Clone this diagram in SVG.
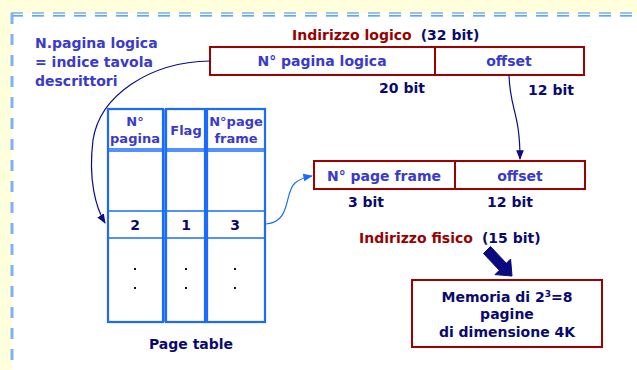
<svg xmlns="http://www.w3.org/2000/svg" width="637" height="370" viewBox="0 0 637 370">
  <style>
    text { font-family: "DejaVu Sans", Verdana, sans-serif; font-weight: bold; }
    .lbl { fill: #3a3acc; font-size: 14px; }
    .hdr { fill: #3a3acc; font-size: 13px; }
    .navy { fill: #0a0a6e; font-size: 14px; }
    .box { fill: #ffffff; stroke: #a00000; stroke-width: 2; }
    .col { fill: #ffffff; stroke: #1a6cff; stroke-width: 2.2; }
    .cell { fill: none; stroke: #1a6cff; stroke-width: 1.5; }
    .dot { fill: #111111; }
  </style>
  <defs>
    <marker id="ahNavy" viewBox="0 0 10 10" refX="9" refY="5" markerWidth="8" markerHeight="8" orient="auto">
      <path d="M0,1 L10,5 L0,9 Z" fill="#0a0a8e"/>
    </marker>
    <marker id="ahBlue" viewBox="0 0 10 10" refX="9" refY="5" markerWidth="8" markerHeight="8" orient="auto">
      <path d="M0,1 L10,5 L0,9 Z" fill="#1a6cff"/>
    </marker>
  </defs>

  <!-- page background and dashed frame -->
  <rect x="0" y="0" width="637" height="370" fill="#ffffdc"/>
  <rect x="12" y="13" width="625" height="357" fill="#ffffff"/>
  <g fill="none">
    <line x1="11" y1="13" x2="637" y2="13" stroke="#2e86ff" stroke-width="1.2" stroke-dasharray="12 9"/>
    <line x1="11" y1="15.8" x2="637" y2="15.8" stroke="#2e86ff" stroke-width="1.2" stroke-dasharray="12 9"/>
    <line x1="12" y1="13" x2="12" y2="370" stroke="#7fb2f4" stroke-width="3" stroke-dasharray="11 10"/>
  </g>

  <!-- caption on the left -->
  <g id="caption">
    <text class="lbl" x="35" y="48">N.pagina logica</text>
    <text class="lbl" x="35" y="67">= indice tavola</text>
    <text class="lbl" x="35" y="86">descrittori</text>
  </g>

  <!-- logical address -->
  <g id="logical-address">
    <text x="292" y="40" font-size="14"><tspan fill="#990000">Indirizzo logico</tspan><tspan fill="#0a0a6e" dx="9">(32 bit)</tspan></text>
    <rect class="box" x="210" y="47" width="374" height="28"/>
    <line x1="435" y1="47" x2="435" y2="75" stroke="#a00000" stroke-width="2"/>
    <text class="lbl" x="322" y="66" text-anchor="middle">N° pagina logica</text>
    <text class="lbl" x="509" y="66" text-anchor="middle">offset</text>
    <text class="navy" x="402" y="93" text-anchor="middle">20 bit</text>
    <text class="navy" x="551" y="95" text-anchor="middle">12 bit</text>
  </g>

  <!-- page table -->
  <g id="page-table">
    <rect class="col" x="108" y="109" width="55" height="213"/>
    <rect class="col" x="166" y="109" width="39" height="213"/>
    <rect class="col" x="207" y="109" width="58" height="213"/>
    <rect class="cell" x="108" y="109" width="55" height="40"/>
    <rect class="cell" x="166" y="109" width="39" height="40"/>
    <rect class="cell" x="207" y="109" width="58" height="40"/>
    <line class="cell" x1="108" y1="151" x2="163" y2="151"/>
    <line class="cell" x1="166" y1="151" x2="205" y2="151"/>
    <line class="cell" x1="207" y1="151" x2="265" y2="151"/>
    <rect class="cell" x="108" y="211" width="157" height="27"/>
    <line class="cell" x1="165" y1="109" x2="165" y2="322"/>
    <line class="cell" x1="206" y1="109" x2="206" y2="322"/>
    <text class="hdr" x="135" y="126" text-anchor="middle">N°</text>
    <text class="hdr" x="135" y="143" text-anchor="middle">pagina</text>
    <text class="hdr" x="186" y="135" text-anchor="middle" font-size="14">Flag</text>
    <text class="hdr" x="236" y="126" text-anchor="middle" font-size="12">N°page</text>
    <text class="hdr" x="236" y="143" text-anchor="middle" font-size="12.5">frame</text>
    <text class="navy" x="135" y="230" text-anchor="middle">2</text>
    <text class="navy" x="186" y="230" text-anchor="middle">1</text>
    <text class="navy" x="235" y="230" text-anchor="middle">3</text>
    <rect class="dot" x="134" y="268" width="2" height="2"/>
    <rect class="dot" x="134" y="287" width="2" height="2"/>
    <rect class="dot" x="185" y="268" width="2" height="2"/>
    <rect class="dot" x="185" y="287" width="2" height="2"/>
    <rect class="dot" x="234" y="268" width="2" height="2"/>
    <rect class="dot" x="234" y="287" width="2" height="2"/>
    <text class="navy" x="191" y="349" text-anchor="middle" font-size="15">Page table</text>
  </g>

  <!-- physical address -->
  <g id="physical-address">
    <rect class="box" x="314" y="161" width="271" height="28"/>
    <line x1="455" y1="161" x2="455" y2="189" stroke="#a00000" stroke-width="2"/>
    <text class="lbl" x="384" y="181" text-anchor="middle">N° page frame</text>
    <text class="lbl" x="520" y="181" text-anchor="middle">offset</text>
    <text class="navy" x="366" y="207" text-anchor="middle">3 bit</text>
    <text class="navy" x="510" y="207" text-anchor="middle">12 bit</text>
    <text x="359" y="243" font-size="14"><tspan fill="#990000">Indirizzo fisico</tspan><tspan fill="#0a0a6e" dx="9">(15 bit)</tspan></text>
  </g>

  <!-- memory summary -->
  <g id="memory">
    <rect class="box" x="412" y="280" width="190" height="67"/>
    <text class="navy" x="507" y="302" text-anchor="middle">Memoria di 2<tspan font-size="9" dy="-5">3</tspan><tspan dy="5">=8</tspan></text>
    <text class="navy" x="507" y="319" text-anchor="middle">pagine</text>
    <text class="navy" x="507" y="337" text-anchor="middle">di dimensione 4K</text>
  </g>

  <!-- connectors -->
  <g id="connectors" fill="none">
    <path d="M210,61 C150,62 100,95 93,140 C88,180 96,208 105,223" stroke="#0a0a8e" stroke-width="1.2" marker-end="url(#ahNavy)"/>
    <path d="M509,75 C510,110 520,112 520,159" stroke="#0a0a8e" stroke-width="1.2" marker-end="url(#ahNavy)"/>
    <path d="M266,224 C292,222 284,192 295,183 C301,178 306,177 312,176" stroke="#1a6cff" stroke-width="1.2" marker-end="url(#ahBlue)"/>
    <path d="M483.5,253.5 L499.3,270.3 L495,274.6 L512,276 L510.6,259 L506.3,263.3 L490.5,246.5 Z" fill="#0a0a7e" stroke="#0a0a7e" stroke-width="1"/>
  </g>
</svg>
